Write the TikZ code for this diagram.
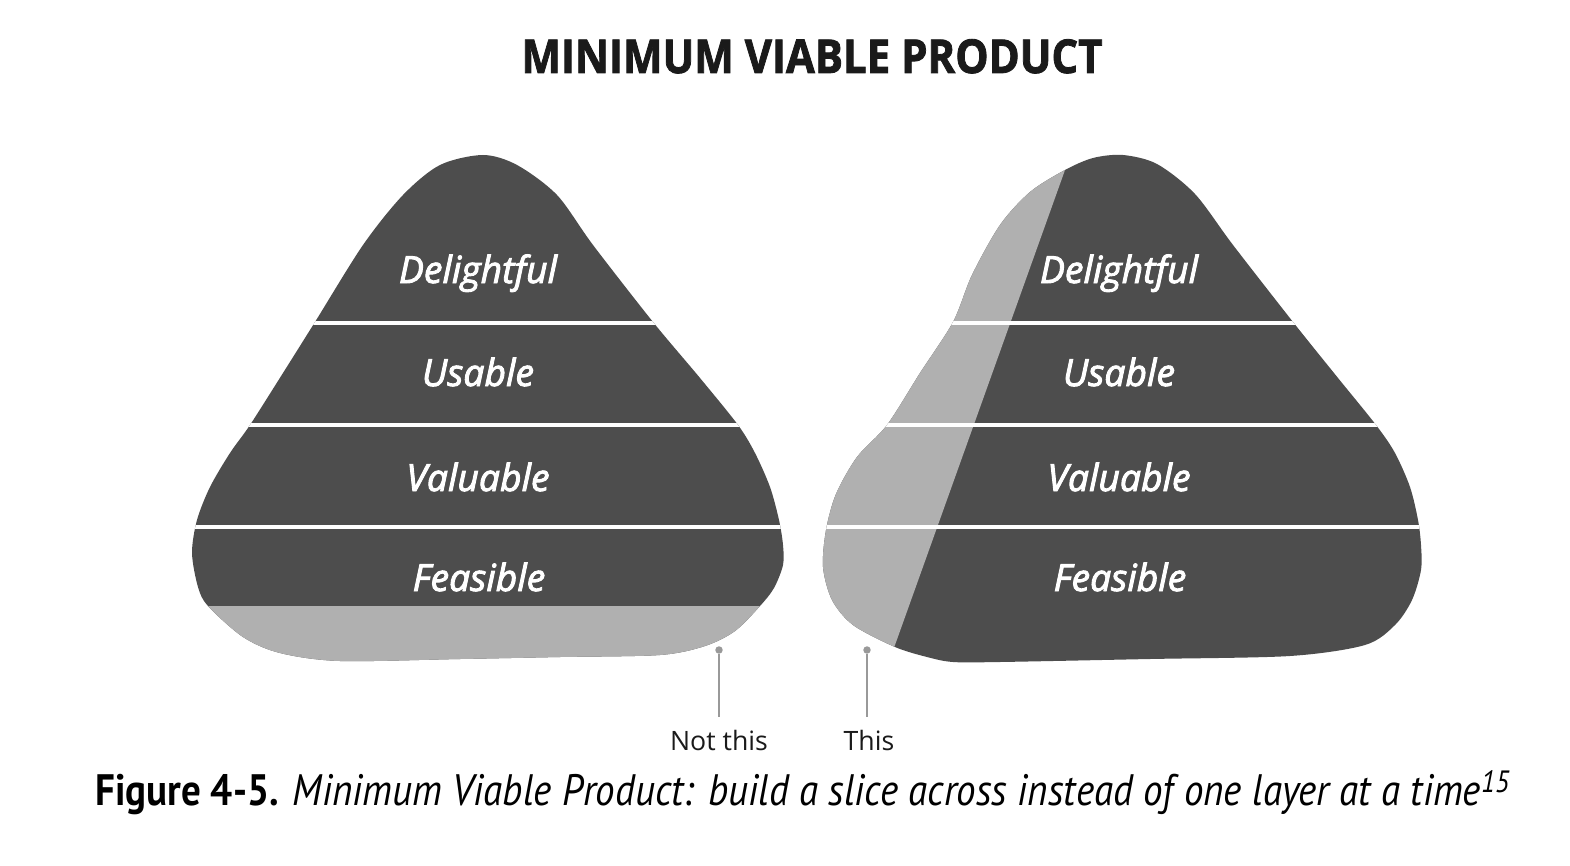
\documentclass[tikz,border=0pt]{standalone}
\usepackage{fontspec}
\usepackage{graphicx}
\setmainfont{Open Sans}
\newfontfamily\capfont{PT Sans}
\newfontfamily\labelfont[FakeBold=2.4]{Open Sans Italic}
\newfontfamily\headfont[FakeBold=1.8]{Open Sans Bold}
\definecolor{layerdark}{HTML}{4D4D4D}
\definecolor{layerlight}{HTML}{B0B0B0}
\definecolor{leader}{HTML}{999999}
\definecolor{ink}{HTML}{1A1A1A}
\tikzset{
  layerlabel/.style={text=white, font=\labelfont\fontsize{28}{32}\selectfont, anchor=base, inner sep=0pt},
  sep/.style={white, line width=2.4pt},
  pin/.style={circle, fill=leader, inner sep=0pt, minimum size=5.6pt},
  pinline/.style={leader, line width=1.6pt},
  pintext/.style={text=ink, font=\fontsize{20}{24}\selectfont, anchor=base, inner sep=0pt},
}
% outlines of the two rounded pyramids (pixel units, y grows downwards)
\def\leftblob{plot[smooth cycle, tension=0.5] coordinates {
  (483,155) (517,165) (557,195) (593,245) (653,322) (700,378) (738,425)
  (755,453) (770,487) (779,520) (783,545) (783,565) (774,588) (760,606)
  (735,631) (705,646) (660,655) (560,657) (460,659) (340,661) (280,653)
  (243,637) (208,606) (198,587) (192,553) (197,520) (210,487) (230,453)
  (250,425) (283,373) (315,322) (363,245) (403,195) (440,165)}}
\def\rightblob{plot[smooth cycle, tension=0.5] coordinates {
  (1123,155) (1157,164) (1195,194) (1233,245) (1293,322) (1338,378)
  (1376,425) (1395,453) (1410,487) (1418,520) (1421,545) (1421,570)
  (1412,600) (1395,625) (1365,645) (1290,656) (1150,659) (1000,662)
  (953,662) (927,657) (895,647) (853,625) (832,600) (823,567) (826,530)
  (836,494) (857,457) (887,425) (920,373) (953,322) (972,275) (1000,225)
  (1030,192) (1065,170) (1093,158)}}
\begin{document}
\begin{tikzpicture}[x=0.75pt, y=-0.75pt]
\path[use as bounding box, fill=white] (0,0) rectangle (1570,866);

% title
\node[text=ink, anchor=base, inner sep=0pt] (title) at (812,73)
  {\resizebox{435.75pt}{\height}{\headfont\fontsize{35}{40}\selectfont MINIMUM VIABLE PRODUCT}};

% left pyramid: one whole layer at a time
\fill[layerdark] \leftblob;
\begin{scope}
  \clip \leftblob;
  \fill[layerlight] (150,606) rectangle (820,700);
  \draw[sep] (150,323) -- (820,323);
  \draw[sep] (150,425) -- (820,425);
  \draw[sep] (150,527) -- (820,527);
\end{scope}

% right pyramid: a slice across all layers
\fill[layerdark] \rightblob;
\begin{scope}
  \clip \rightblob;
  \fill[layerlight] (1099,75) -- (861,740) -- (780,740) -- (780,75) -- cycle;
  \draw[sep] (790,323) -- (1460,323);
  \draw[sep] (790,425) -- (1460,425);
  \draw[sep] (790,527) -- (1460,527);
\end{scope}

% layer names
\node[layerlabel] (ld) at (478,283) {Delightful};
\node[layerlabel] (lu) at (478,386) {Usable};
\node[layerlabel] (lv) at (478,491) {Valuable};
\node[layerlabel] (lf) at (479,591) {Feasible};
\node[layerlabel] (rd) at (1119,283) {Delightful};
\node[layerlabel] (ru) at (1119,386) {Usable};
\node[layerlabel] (rv) at (1119,491) {Valuable};
\node[layerlabel] (rf) at (1120,591) {Feasible};

% callouts
\node[pin] (pn) at (719,650) {};
\node[pintext] (tn) at (719,750) {Not this};
\coordinate (en) at (719,717);
\draw[pinline] (pn) -- (en);
\node[pin] (py) at (867,650) {};
\node[pintext] (ty) at (869,750) {This};
\coordinate (ey) at (867,717);
\draw[pinline] (py) -- (ey);

% caption
\node[anchor=base west, inner sep=0pt] (cap) at (95,805)
  {\resizebox{1061.25pt}{\height}{\capfont\fontsize{33}{36}\selectfont\textbf{Figure 4-5.} \textit{Minimum Viable Product: build a slice across instead of one layer at a time}\textsuperscript{\textit{15}}}};
\end{tikzpicture}
\end{document}
